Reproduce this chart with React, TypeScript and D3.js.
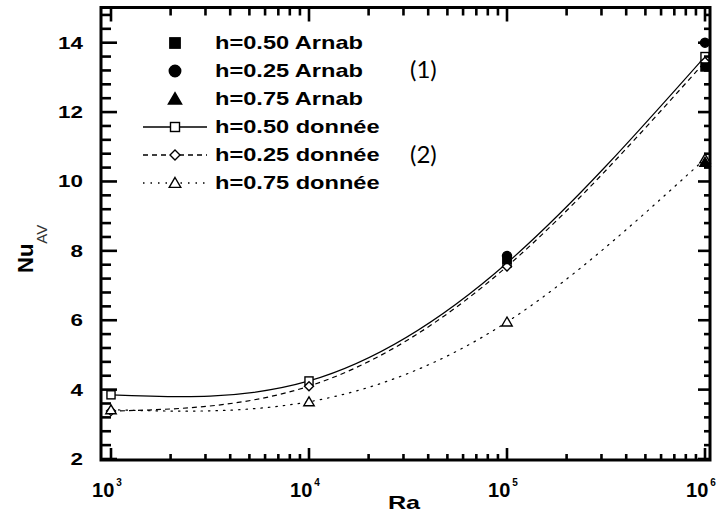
import React from 'react';
import * as d3 from 'd3';

const raValues = [1e3, 1e4, 1e5, 1e6];
const nuH050Donnee = [3.85, 4.25, 7.65, 13.6];
const nuH025Donnee = [3.38, 4.1, 7.55, 13.45];
const nuH075Donnee = [3.42, 3.65, 5.95, 10.65];
const raArnab = [1e5, 1e6];
const nuH050Arnab = [7.75, 13.3];
const nuH025Arnab = [7.85, 14.0];
const raArnabH075 = [1e6];
const nuH075Arnab = [10.55];
const yTickLabels = [2, 4, 6, 8, 10, 12, 14];
const xTickExponents = [3, 4, 5, 6];
const legendLabels = [
  'h=0.50 Arnab',
  'h=0.25 Arnab',
  'h=0.75 Arnab',
  'h=0.50 donnée',
  'h=0.25 donnée',
  'h=0.75 donnée',
];

const W = 721;
const H = 515;
const FL = 101, FR = 710, FT = 7.5, FB = 460;

const x = d3.scaleLog().domain([1e3, 1e6]).range([111, 705]);
const y = d3.scaleLinear().domain([2, 15]).range([459, 8]);

type MType = 'square' | 'circle' | 'triangle' | 'diamond';

function Marker({ type, cx, cy, filled, s = 1 }: { type: MType; cx: number; cy: number; filled: boolean; s?: number }) {
  const fill = filled ? '#000' : '#fff';
  const stroke = '#000';
  const sw = 1.4;
  if (type === 'square') {
    const h = 4.5 * s;
    return <rect x={cx - h} y={cy - h} width={2 * h} height={2 * h} fill={fill} stroke={stroke} strokeWidth={sw} />;
  }
  if (type === 'circle') {
    return <circle cx={cx} cy={cy} r={5 * s} fill={fill} stroke={stroke} strokeWidth={sw} />;
  }
  if (type === 'diamond') {
    const h = 5 * s;
    return <path d={`M${cx},${cy - h}L${cx + h},${cy}L${cx},${cy + h}L${cx - h},${cy}Z`} fill={fill} stroke={stroke} strokeWidth={sw} />;
  }
  const h = 5.5 * s;
  return <path d={`M${cx},${cy - h}L${cx + h * 1.05},${cy + h * 0.8}L${cx - h * 1.05},${cy + h * 0.8}Z`} fill={fill} stroke={stroke} strokeWidth={sw} />;
}

export default function App() {
  const line = d3
    .line<[number, number]>()
    .x((d) => x(d[0]))
    .y((d) => y(d[1]))
    .curve(d3.curveNatural);

  const donnees = [
    { vals: nuH050Donnee, type: 'square' as MType, dash: undefined as string | undefined },
    { vals: nuH025Donnee, type: 'diamond' as MType, dash: '5,4' },
    { vals: nuH075Donnee, type: 'triangle' as MType, dash: '1.5,6' },
  ];

  const yMinor = d3.range(0, 33).map((k) => 2 + 0.4 * k);
  const xMinor: number[] = [];
  [1e3, 1e4, 1e5].forEach((dec) => d3.range(2, 10).forEach((m) => xMinor.push(dec * m)));

  const font = "'Liberation Sans', Arial, sans-serif";

  const legendTypes: MType[] = ['square', 'circle', 'triangle', 'square', 'diamond', 'triangle'];
  const legendDash: (string | undefined | null)[] = [null, null, null, undefined, '5,4', '1.5,6'];

  return (
    <svg width={W} height={H} style={{ position: 'absolute', left: 0, top: 0, background: '#fff' }}>
      <rect x={0} y={0} width={W} height={H} fill="#fff" />
      {/* curves */}
      {donnees.map((s, i) => (
        <path
          key={'c' + i}
          d={line(raValues.map((r, j) => [r, s.vals[j]] as [number, number])) || ''}
          fill="none"
          stroke="#000"
          strokeWidth={1.2}
          strokeDasharray={s.dash}
          strokeLinecap={s.dash === '1.5,6' ? 'round' : 'butt'}
        />
      ))}
      {/* open markers */}
      {donnees.map((s, i) =>
        raValues.map((r, j) => (
          <Marker key={`m${i}-${j}`} type={s.type} cx={x(r)} cy={y(s.vals[j])} filled={false} s={0.9} />
        ))
      )}
      {/* Arnab filled markers */}
      {raArnab.map((r, j) => (
        <Marker key={`a50-${j}`} type="square" cx={x(r)} cy={y(nuH050Arnab[j])} filled s={0.9} />
      ))}
      {raArnab.map((r, j) => (
        <Marker key={`a25-${j}`} type="circle" cx={x(r)} cy={y(nuH025Arnab[j])} filled s={0.9} />
      ))}
      {raArnabH075.map((r, j) => (
        <Marker key={`a75-${j}`} type="triangle" cx={x(r)} cy={y(nuH075Arnab[j])} filled s={0.9} />
      ))}

      {/* frame */}
      <rect x={FL} y={FT} width={FR - FL} height={FB - FT} fill="none" stroke="#000" strokeWidth={3} />
      {/* y ticks */}
      {yMinor.map((v, i) => {
        const major = i % 5 === 0;
        const yy = y(v);
        return (
          <g key={'yt' + i}>
            <line x1={FL} x2={FL + (major ? 16 : 10)} y1={yy} y2={yy} stroke="#000" strokeWidth={2.6} />
            <line x1={FR} x2={FR - (major ? 12 : 6)} y1={yy} y2={yy} stroke="#000" strokeWidth={2.6} />
          </g>
        );
      })}
      {/* x ticks */}
      {raValues.map((v, i) => (
        <g key={'xM' + i}>
          <line x1={x(v)} x2={x(v)} y1={FB} y2={FB - 12} stroke="#000" strokeWidth={2.6} />
          <line x1={x(v)} x2={x(v)} y1={FT} y2={FT + 14} stroke="#000" strokeWidth={2.6} />
        </g>
      ))}
      {xMinor.map((v, i) => (
        <g key={'xm' + i}>
          <line x1={x(v)} x2={x(v)} y1={FB} y2={FB - 6} stroke="#000" strokeWidth={2.6} />
          <line x1={x(v)} x2={x(v)} y1={FT} y2={FT + 8} stroke="#000" strokeWidth={2.6} />
        </g>
      ))}

      {/* y tick labels */}
      {yTickLabels.map((v) => (
        <text
          key={'yl' + v}
          transform={`translate(83,${y(v) + 6}) scale(1.4,1)`}
          textAnchor="end"
          fontFamily={font}
          fontWeight="bold"
          fontSize={16}
          fill="#000"
        >
          {v}
        </text>
      ))}
      {/* x tick labels */}
      {xTickExponents.map((e, i) => (
        <text
          key={'xl' + e}
          x={x(raValues[i]) - 4}
          y={497}
          textAnchor="middle"
          fontFamily={font}
          fontWeight="bold"
          fontSize={20}
          fill="#000"
        >
          10
          <tspan fontSize={10} dy={-11} dx={2}>
            {e}
          </tspan>
        </text>
      ))}
      {/* axis titles */}
      <text
        transform="translate(404,509) scale(1.4,1)"
        textAnchor="middle"
        fontFamily={font}
        fontWeight="bold"
        fontSize={18}
      >
        Ra
      </text>
      <text transform="translate(33,273) rotate(-90)" fontFamily={font} fontWeight="bold" fontSize={22}>
        Nu
        <tspan fontSize={15} fontWeight="normal" dy={14} fill="#333">
          AV
        </tspan>
      </text>

      {/* legend */}
      {legendLabels.map((lab, i) => {
        const ly = 43 + i * 28;
        const dash = legendDash[i];
        return (
          <g key={'lg' + i}>
            {dash !== null && (
              <line
                x1={143}
                x2={207}
                y1={ly}
                y2={ly}
                stroke="#000"
                strokeWidth={1.3}
                strokeDasharray={dash}
              />
            )}
            <Marker type={legendTypes[i]} cx={175} cy={ly} filled={i < 3} s={i < 3 ? 1.15 : 1} />
            <text
              transform={`translate(215,${ly + 6}) scale(1.35,1)`}
              fontFamily={font}
              fontWeight="bold"
              fontSize={17.5}
              fill="#000"
            >
              {lab}
            </text>
          </g>
        );
      })}
      <text x={410} y={78} fontFamily="Lato, 'Open Sans', sans-serif" fontSize={24} fill="#000">
        (1)
      </text>
      <text x={410} y={163} fontFamily="Lato, 'Open Sans', sans-serif" fontSize={24} fill="#000">
        (2)
      </text>
    </svg>
  );
}
